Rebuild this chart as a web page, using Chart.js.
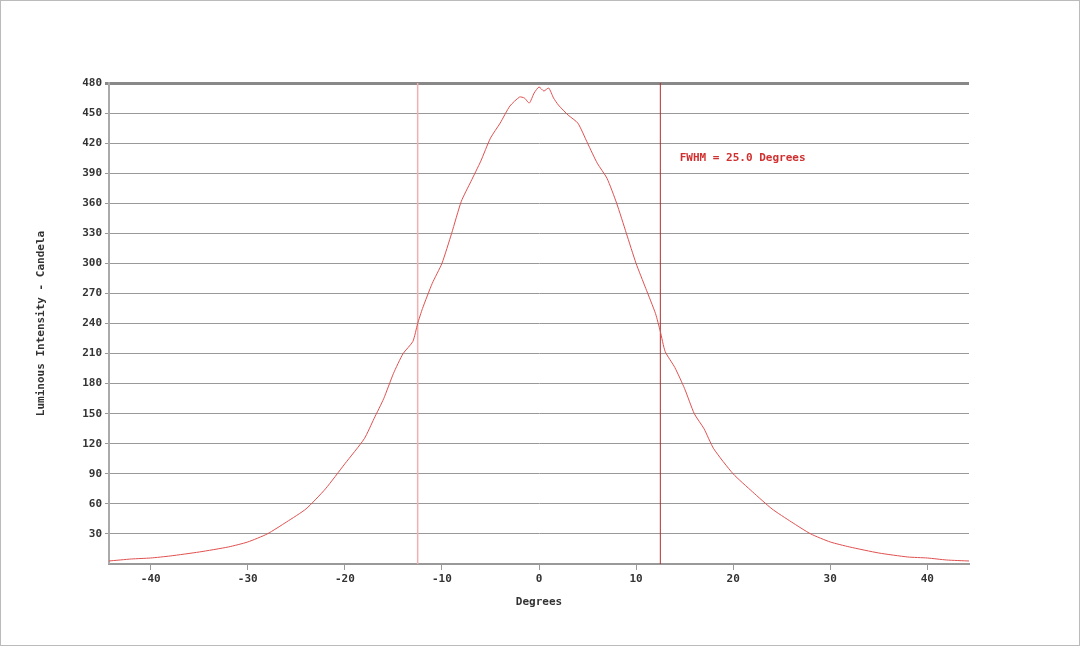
<!DOCTYPE html>
<html><head><meta charset="utf-8">
<script src="https://cdn.jsdelivr.net/npm/chart.js@4"></script>
<style>html,body{margin:0;padding:0;background:#fff}#w{width:1080px;height:646px;box-sizing:border-box;border:1px solid #bbb}</style>
</head><body><div id="w"><canvas id="c"></canvas></div>
<script>
const degrees = [-44.3,-42,-40,-38,-35,-32,-30,-28,-26,-24,-22,-20,-18,-17,-16,-15,-14,-13,-12.5,-12,-11,-10,-9,-8,-7,-6,-5,-4,-3,-2,-1.5,-1,-0.5,0,0.5,1,1.5,2,3,4,5,6,7,8,9,10,11,12,12.5,13,14,15,16,17,18,20,22,24,26,28,30,32,35,38,40,42,44.3];
const intensity = [3,5,6,8,12,17,22,30,42,55,75,100,125,145,165,190,210,222,240,255,280,300,330,362,382,402,425,440,457,466,465,460,470,476,472,475,465,458,448,440,420,400,385,360,330,300,275,250,232,212,196,175,150,135,115,90,72,55,42,30,22,17,11,7,6,4,3];
const yTicks = [30,60,90,120,150,180,210,240,270,300,330,360,390,420,450,480];
const xTicks = [-40,-30,-20,-10,0,10,20,30,40];
const fwhmLeft = -12.5, fwhmRight = 12.5;
const label = 'FWHM = 25.0 Degrees';
const font = "'DejaVu Sans Mono', monospace";
const curve = degrees.map((x,i)=>({x, y: intensity[i]}));
new Chart(document.getElementById('c'), {
  type: 'scatter',
  data: { datasets: [
    {data: curve, showLine: true, borderColor: '#e05050', borderWidth: 1, pointRadius: 0, tension: 0.2},
    {data: [{x:fwhmLeft,y:0},{x:fwhmLeft,y:480}], showLine:true, borderColor:'#f0b0b0', borderWidth:1.5, pointRadius:0},
    {data: [{x:fwhmRight,y:0},{x:fwhmRight,y:480}], showLine:true, borderColor:'#b03030', borderWidth:1, pointRadius:0}
  ]},
  options: {
    responsive: true, maintainAspectRatio: false, animation: false,
    layout: {padding: {left: 30, right: 110, top: 82, bottom: 32}},
    plugins: {legend: {display: false}, tooltip: {enabled: false}},
    scales: {
      x: {type:'linear', min:-44.3, max:44.3,
        afterBuildTicks: s => { s.ticks = xTicks.map(v=>({value:v})); },
        afterFit: s => { s.height = 49; },
        grid: {display: true, drawOnChartArea: false, drawTicks: true, tickLength: 6, color: '#999'},
        border: {color: '#999', width: 2},
        ticks: {font: {family: font, size: 11, weight: 'bold'}, color: '#333', maxRotation: 0},
        title: {display: true, text: 'Degrees', font: {family: font, size: 11, weight:'bold'}, color: '#333', padding: {top: 4}}
      },
      y: {min:0, max:480,
        afterBuildTicks: s => { s.ticks = [0].concat(yTicks).map(v=>({value:v})); },
        afterFit: s => { s.width = 78; },
        grid: {color: c => c.tick.value===480 ? '#888' : '#999', lineWidth: c => c.tick.value===480 ? 3 : (c.tick.value===0?0:1), tickLength: 4, drawTicks: true},
        border: {color: '#aaa', width: 2},
        ticks: {font: {family: font, size: 11, weight: 'bold'}, color: '#333', callback: v => v===0 ? '' : v},
        title: {display: true, text: 'Luminous Intensity - Candela', font: {family: font, size: 11, weight:'bold'}, color: '#333', padding: {bottom: 14}}
      }
    }
  },
  plugins: [{id:'lbl', afterDatasetsDraw(ch){
    const c = ch.ctx; c.save(); c.font = "bold 11px " + font; c.fillStyle = '#d03030';
    c.textBaseline = 'middle';
    c.fillText(label, ch.scales.x.getPixelForValue(14.5), ch.scales.y.getPixelForValue(405));
    c.restore();
  }}]
});
</script></body></html>
